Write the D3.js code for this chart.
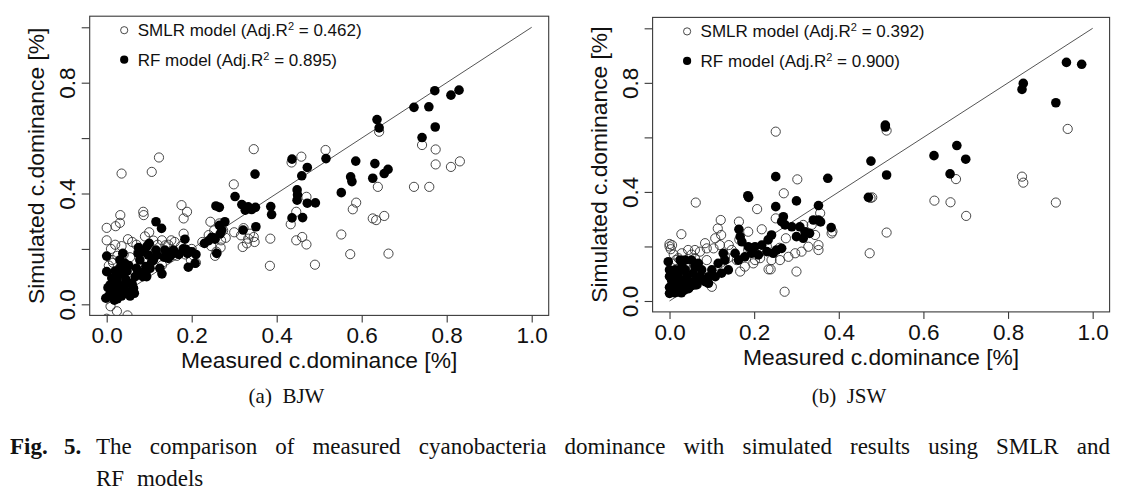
<!DOCTYPE html>
<html>
<head>
<meta charset="utf-8">
<script src="https://cdn.jsdelivr.net/npm/d3@7"></script>
<style>
  html, body { margin: 0; padding: 0; background: #fff; }
  svg { display: block; }
  .sans { font-family: "Liberation Sans", Arial, Helvetica, sans-serif; fill: #111; }
  .serif { font-family: "Liberation Serif", "Times New Roman", Times, serif; fill: #111; }
</style>
</head>
<body>
<svg id="chart" width="1131" height="494"></svg>
<script>
// ---------------- DATA ----------------
const xTicks = [0, 0.2, 0.4, 0.6, 0.8, 1.0];
const yTicks = [0, 0.2, 0.4, 0.6, 0.8, 1.0];
const yTickLabels = [0, 0.4, 0.8];
const xTitle = "Measured c.dominance [%]";
const yTitle = "Simulated c.dominance [%]";
const seriesNames = ["SMLR model", "RF model"];
const r2BJW = ["0.462", "0.895"];
const r2JSW = ["0.392", "0.900"];
const panelLabels = ["(a)  BJW", "(b)  JSW"];
const captionBold = ["Fig.", "5."];
const captionLine1 = "The comparison of measured cyanobacteria dominance with simulated results using SMLR and";
const captionLine2 = "RF models";

// (a) BJW, SMLR model  [measured, simulated]
const bjwSMLR = [
 [0.831,0.516],[0.810,0.496],[0.774,0.559],[0.774,0.505],[0.742,0.575],[0.759,0.424],[0.723,0.424],
 [0.641,0.623],[0.638,0.424],[0.626,0.310],[0.634,0.304],[0.653,0.319],[0.663,0.183],[0.587,0.367],
 [0.579,0.343],[0.573,0.181],[0.552,0.252],[0.515,0.557],[0.490,0.143],[0.470,0.216],[0.460,0.243],
 [0.446,0.231],[0.446,0.334],[0.433,0.289],[0.458,0.533],[0.435,0.512],[0.470,0.388],[0.385,0.237],
 [0.384,0.139],[0.346,0.560],[0.346,0.243],[0.348,0.225],[0.333,0.237],[0.337,0.255],[0.320,0.207],
 [0.316,0.249],[0.299,0.433],[0.274,0.267],[0.269,0.231],[0.265,0.292],[0.253,0.267],[0.244,0.298],
 [0.246,0.210],[0.255,0.175],[0.258,0.190],[0.204,0.177],[0.176,0.358],[0.189,0.334],[0.181,0.310],
 [0.181,0.255],[0.123,0.530],[0.106,0.478],[0.035,0.472],[0.032,0.322],[0.031,0.294],[0.021,0.282],
 [0.000,0.276],[0.000,0.231],[0.086,0.334],[0.087,0.322],[0.130,0.231],[0.138,0.213],[0.152,0.231],
 [0.130,0.141],[0.009,-0.007],[0.024,-0.025],[0.049,-0.040],[0.000,-0.052],
 [0.010,0.200],[0.020,0.215],[0.035,0.210],[0.050,0.235],[0.060,0.225],[0.070,0.215],[0.040,0.180],
 [0.055,0.170],[0.075,0.190],[0.090,0.245],[0.100,0.260],[0.110,0.230],[0.120,0.215],[0.145,0.215],
 [0.160,0.225],[0.175,0.210],[0.185,0.180],[0.200,0.200],[0.225,0.225],[0.240,0.250],[0.015,0.150],
 [0.005,0.140],[0.030,0.130],[0.065,0.120],[0.080,0.140],[0.020,0.100],[0.045,0.075],[0.013,0.160],
 [0.025,0.175],[0.095,0.165],[0.115,0.190],[0.165,0.175],[0.198,0.160],[0.210,0.150],[0.268,0.205],
 [0.280,0.240],[0.300,0.260],[0.322,0.275],[0.330,0.220]
];

// (a) BJW, RF model
const bjwRF = [
 [0.772,0.771],[0.810,0.755],[0.829,0.773],[0.723,0.711],[0.758,0.713],[0.773,0.640],[0.742,0.602],
 [0.636,0.667],[0.641,0.637],[0.631,0.508],[0.626,0.455],[0.653,0.472],[0.662,0.487],[0.586,0.517],
 [0.574,0.460],[0.577,0.443],[0.552,0.403],[0.516,0.526],[0.436,0.524],[0.459,0.464],[0.472,0.494],
 [0.448,0.413],[0.449,0.395],[0.448,0.376],[0.472,0.365],[0.491,0.366],[0.436,0.312],[0.461,0.313],
 [0.386,0.353],[0.388,0.324],
 [0.349,0.470],[0.302,0.389],[0.257,0.355],[0.265,0.350],[0.278,0.298],[0.271,0.268],[0.267,0.254],
 [0.247,0.242],[0.255,0.235],[0.240,0.230],[0.259,0.184],[0.321,0.268],[0.318,0.360],[0.333,0.352],
 [0.326,0.340],[0.341,0.342],[0.351,0.280],[0.350,0.350],[0.116,0.298],[0.129,0.274],[0.184,0.235],
 [0.186,0.199],[0.190,0.184],[0.194,0.190],[0.208,0.148],[0.192,0.134],[0.137,0.196],[0.145,0.166],
 [0.157,0.196],[0.160,0.185],[0.116,0.196],[0.118,0.178],[0.098,0.178],[0.106,0.154],[0.102,0.130],
 [0.092,0.136],[0.092,0.112],[0.094,0.100],[0.074,0.184],[0.078,0.160],[0.067,0.100],[0.059,0.076],
 [0.063,0.058],[0.039,0.112],[0.043,0.148],[0.031,0.160],[0.038,0.184],[0.000,0.174],[0.000,0.118],
 [-0.002,0.022],
 [0.005,0.030],[0.010,0.045],[0.008,0.070],[0.015,0.060],[0.020,0.040],[0.025,0.080],[0.012,0.095],
 [0.030,0.050],[0.035,0.030],[0.040,0.065],[0.045,0.090],[0.050,0.045],[0.055,0.030],[0.060,0.070],
 [0.020,0.120],[0.028,0.105],[0.033,0.135],[0.048,0.120],[0.052,0.140],[0.018,0.015],[0.003,0.060],
 [0.025,0.020],[0.065,0.040],[0.070,0.130],[0.080,0.115],[0.085,0.100],[0.088,0.195],[0.095,0.210],
 [0.100,0.220],[0.110,0.160],[0.125,0.130],[0.130,0.110],[0.135,0.170],[0.150,0.175],[0.155,0.185],
 [0.170,0.180],[0.180,0.200],[0.200,0.190],[0.210,0.180],[0.230,0.220],[0.250,0.240],[0.265,0.285],
 [0.075,0.205],[0.085,0.190]
];

// (b) JSW, SMLR model
const jswSMLR = [
 [0.941,0.631],[0.833,0.456],[0.836,0.434],[0.913,0.361],[0.677,0.447],[0.626,0.368],[0.664,0.362],
 [0.701,0.312],[0.513,0.625],[0.513,0.251],[0.473,0.175],[0.479,0.380],[0.475,0.378],[0.251,0.621],
 [0.302,0.446],[0.270,0.395],[0.207,0.337],[0.251,0.303],[0.062,0.361],[0.028,0.245],[0.272,0.034],
 [0.300,0.108],[0.234,0.116],[0.239,0.116],[0.121,0.297],
 [0.000,0.209],[0.000,0.200],[0.003,0.190],[0.006,0.205],[0.044,0.187],[0.060,0.187],[0.072,0.181],
 [0.084,0.212],[0.088,0.193],[0.104,0.193],[0.108,0.230],[0.114,0.266],[0.122,0.242],[0.119,0.205],
 [0.164,0.291],[0.186,0.254],[0.218,0.263],[0.383,0.248],[0.356,0.322],[0.352,0.205],[0.352,0.187],
 [0.328,0.199],[0.312,0.181],[0.297,0.175],[0.167,0.108],[0.178,0.126],[0.198,0.138],[0.202,0.150],
 [0.100,0.052],[0.186,0.187],[0.131,0.162],[0.147,0.187],[0.159,0.150],[0.385,0.255],[0.344,0.242],
 [0.316,0.279],[0.336,0.279],[0.281,0.162],[0.261,0.150],[0.241,0.150],[0.214,0.157],[0.029,0.175],
 [0.021,0.157],[0.044,0.144],[0.037,0.126],[0.060,0.157],[0.088,0.150],[0.010,0.170],[0.015,0.150],
 [0.052,0.170],[0.140,0.205],[0.165,0.225],[0.230,0.200],[0.260,0.195],[0.275,0.230]
];

// (b) JSW, RF model
const jswRF = [
 [0.938,0.875],[0.974,0.868],[0.836,0.798],[0.833,0.776],[0.913,0.727],[0.510,0.645],[0.510,0.638],
 [0.625,0.533],[0.679,0.570],[0.700,0.520],[0.663,0.466],[0.476,0.513],[0.513,0.462],[0.470,0.380],
 [0.374,0.450],[0.251,0.456],[0.185,0.386],[0.187,0.380],[0.300,0.367],[0.251,0.346],[0.352,0.350],
 [0.382,0.269],[0.352,0.297],[0.357,0.290],[0.269,0.309],[0.340,0.297],
 [0.265,0.291],[0.273,0.279],[0.289,0.272],[0.308,0.272],[0.320,0.254],[0.331,0.248],[0.300,0.236],
 [0.316,0.230],[0.164,0.263],[0.167,0.236],[0.171,0.217],[0.186,0.199],[0.202,0.199],[0.218,0.205],
 [0.233,0.224],[0.241,0.242],[0.253,0.187],[0.265,0.193],[0.245,0.175],[0.230,0.181],[0.194,0.175],
 [0.210,0.169],[0.178,0.162],[0.163,0.150],[0.155,0.175],[0.127,0.175],[0.131,0.150],[0.115,0.138],
 [0.139,0.114],[0.100,0.114],[0.092,0.089],[0.108,0.089],[0.123,0.102],[0.076,0.114],[0.068,0.138],
 [0.060,0.126],[0.056,0.102],[0.072,0.089],[0.084,0.071],[0.092,0.065],[0.064,0.077],[0.052,0.150],
 [0.037,0.150],[0.029,0.126],[0.025,0.150],[-0.003,0.144],[0.000,0.114],[0.013,0.114],[0.021,0.102],
 [0.037,0.114],[0.041,0.089],[0.029,0.077],[0.044,0.071],[0.060,0.059],
 [0.000,0.090],[0.005,0.075],[0.010,0.060],[0.000,0.050],[0.005,0.040],[0.012,0.030],[0.020,0.085],
 [0.025,0.065],[0.030,0.050],[0.035,0.040],[0.040,0.060],[0.045,0.045],[0.050,0.055],[0.055,0.070],
 [0.015,0.045],[0.008,0.095],[0.018,0.070],[0.028,0.030],[0.065,0.060],[0.070,0.080],[0.000,0.028]
];

// ---------------- LAYOUT ----------------
const svg = d3.select("#chart");
svg.append("rect").attr("width", 1131).attr("height", 494).attr("fill", "#fff");

const panels = [
  { smlr: bjwSMLR, rf: bjwRF, r2: r2BJW, label: panelLabels[0],
    left: 89.7, right: 548.7, top: 16.2, bottom: 315.4 },
  { smlr: jswSMLR, rf: jswRF, r2: r2JSW, label: panelLabels[1],
    left: 652.6, right: 1109.6, top: 17.4, bottom: 311.9 }
];

const ink = "#3a3a3a";

panels.forEach((p, i) => {
  const x = d3.scaleLinear().domain([-0.04, 1.04]).range([p.left, p.right]);
  const y = d3.scaleLinear().domain([-0.04, 1.04]).range([p.bottom, p.top]);
  const g = svg.append("g");

  const clipId = "clip" + i;
  svg.append("clipPath").attr("id", clipId)
    .append("rect").attr("x", p.left).attr("y", p.top)
    .attr("width", p.right - p.left).attr("height", p.bottom - p.top);

  // 1:1 line
  g.append("line")
    .attr("x1", x(0)).attr("y1", y(0)).attr("x2", x(1)).attr("y2", y(1))
    .attr("stroke", "#555").attr("stroke-width", 1);

  const pts = g.append("g").attr("clip-path", `url(#${clipId})`);
  pts.selectAll("circle.smlr").data(p.smlr).join("circle")
    .attr("class", "smlr")
    .attr("cx", d => x(d[0])).attr("cy", d => y(d[1])).attr("r", 4.6)
    .attr("fill", "none").attr("stroke", "#333").attr("stroke-width", 0.9);
  pts.selectAll("circle.rf").data(p.rf).join("circle")
    .attr("class", "rf")
    .attr("cx", d => x(d[0])).attr("cy", d => y(d[1])).attr("r", 4.8)
    .attr("fill", "#000");

  // box
  g.append("rect")
    .attr("x", p.left).attr("y", p.top)
    .attr("width", p.right - p.left).attr("height", p.bottom - p.top)
    .attr("fill", "none").attr("stroke", ink).attr("stroke-width", 1.1);

  // x axis
  const xAxis = d3.axisBottom(x).tickValues(xTicks).tickSize(7).tickFormat(d3.format(".1f"));
  const gx = g.append("g").attr("transform", `translate(0,${p.bottom})`).call(xAxis);
  gx.select(".domain").remove();
  gx.selectAll(".tick line").attr("stroke", ink).attr("stroke-width", 1.1);
  gx.selectAll(".tick text").attr("class", "sans").attr("font-size", 22.5)
    .attr("y", 28).attr("dy", 0).attr("fill", "#111");

  // y axis
  const yAxis = d3.axisLeft(y).tickValues(yTicks).tickSize(8)
    .tickFormat(d => yTickLabels.includes(d) ? d3.format(".1f")(d) : "");
  const gy = g.append("g").attr("transform", `translate(${p.left},0)`).call(yAxis);
  gy.select(".domain").remove();
  gy.selectAll(".tick line").attr("stroke", ink).attr("stroke-width", 1.1);
  gy.selectAll(".tick text").attr("class", "sans").attr("font-size", 22.5)
    .attr("x", null).attr("dy", null).attr("fill", "#111")
    .attr("text-anchor", "middle")
    .attr("transform", "translate(-15,0) rotate(-90)");

  // axis titles
  g.append("text").attr("class", "sans").attr("font-size", 22.8)
    .attr("x", (x(-0.04) + x(1.04)) / 2).attr("y", p.bottom + 53)
    .attr("text-anchor", "middle").text(xTitle);
  g.append("text").attr("class", "sans").attr("font-size", 22.8)
    .attr("text-anchor", "middle")
    .attr("transform", `translate(${p.left - 46},${(p.top + p.bottom) / 2}) rotate(-90)`)
    .text(yTitle);

  // legend
  const lg = g.append("g");
  const rows = [p.top + 14, p.top + 43.5];
  lg.append("circle").attr("cx", p.left + 34.5).attr("cy", rows[0]).attr("r", 3.6)
    .attr("fill", "none").attr("stroke", "#333").attr("stroke-width", 0.9);
  lg.append("circle").attr("cx", p.left + 34.5).attr("cy", rows[1]).attr("r", 4.1)
    .attr("fill", "#000");
  rows.forEach((ry, k) => {
    const t = lg.append("text").attr("class", "sans").attr("font-size", 17)
      .attr("x", p.left + 48).attr("y", ry + 6);
    t.append("tspan").text(seriesNames[k] + " (Adj.R");
    t.append("tspan").attr("font-size", 11).attr("dy", -6).text("2");
    t.append("tspan").attr("dy", 6).text(" = " + p.r2[k] + ")");
  });

  // panel label
  svg.append("text").attr("class", "serif").attr("font-size", 21)
    .attr("x", i === 0 ? 286.5 : 849).attr("y", 403)
    .attr("text-anchor", "middle").style("white-space", "pre")
    .text(p.label);
});

// ---------------- CAPTION ----------------
const cap1 = svg.append("text").attr("class", "serif").attr("font-size", 23).attr("y", 454);
cap1.append("tspan").attr("x", 10).attr("font-weight", "bold").text(captionBold[0]);
cap1.append("tspan").attr("x", 64).attr("font-weight", "bold").text(captionBold[1]);
const words = captionLine1.split(" ");
// justify the words between x=96 and x=1110
const tmp = svg.append("text").attr("class", "serif").attr("font-size", 23).attr("visibility", "hidden");
const widths = words.map(w => { tmp.text(w); return tmp.node().getComputedTextLength(); });
tmp.remove();
const total = d3.sum(widths);
const gap = (1110 - 96 - total) / (words.length - 1);
let cx = 96;
words.forEach((w, k) => {
  cap1.append("tspan").attr("x", cx).text(w);
  cx += widths[k] + gap;
});
svg.append("text").attr("class", "serif").attr("font-size", 23)
  .attr("x", 96).attr("y", 486).style("word-spacing", "7px").text(captionLine2);
</script>
</body>
</html>
